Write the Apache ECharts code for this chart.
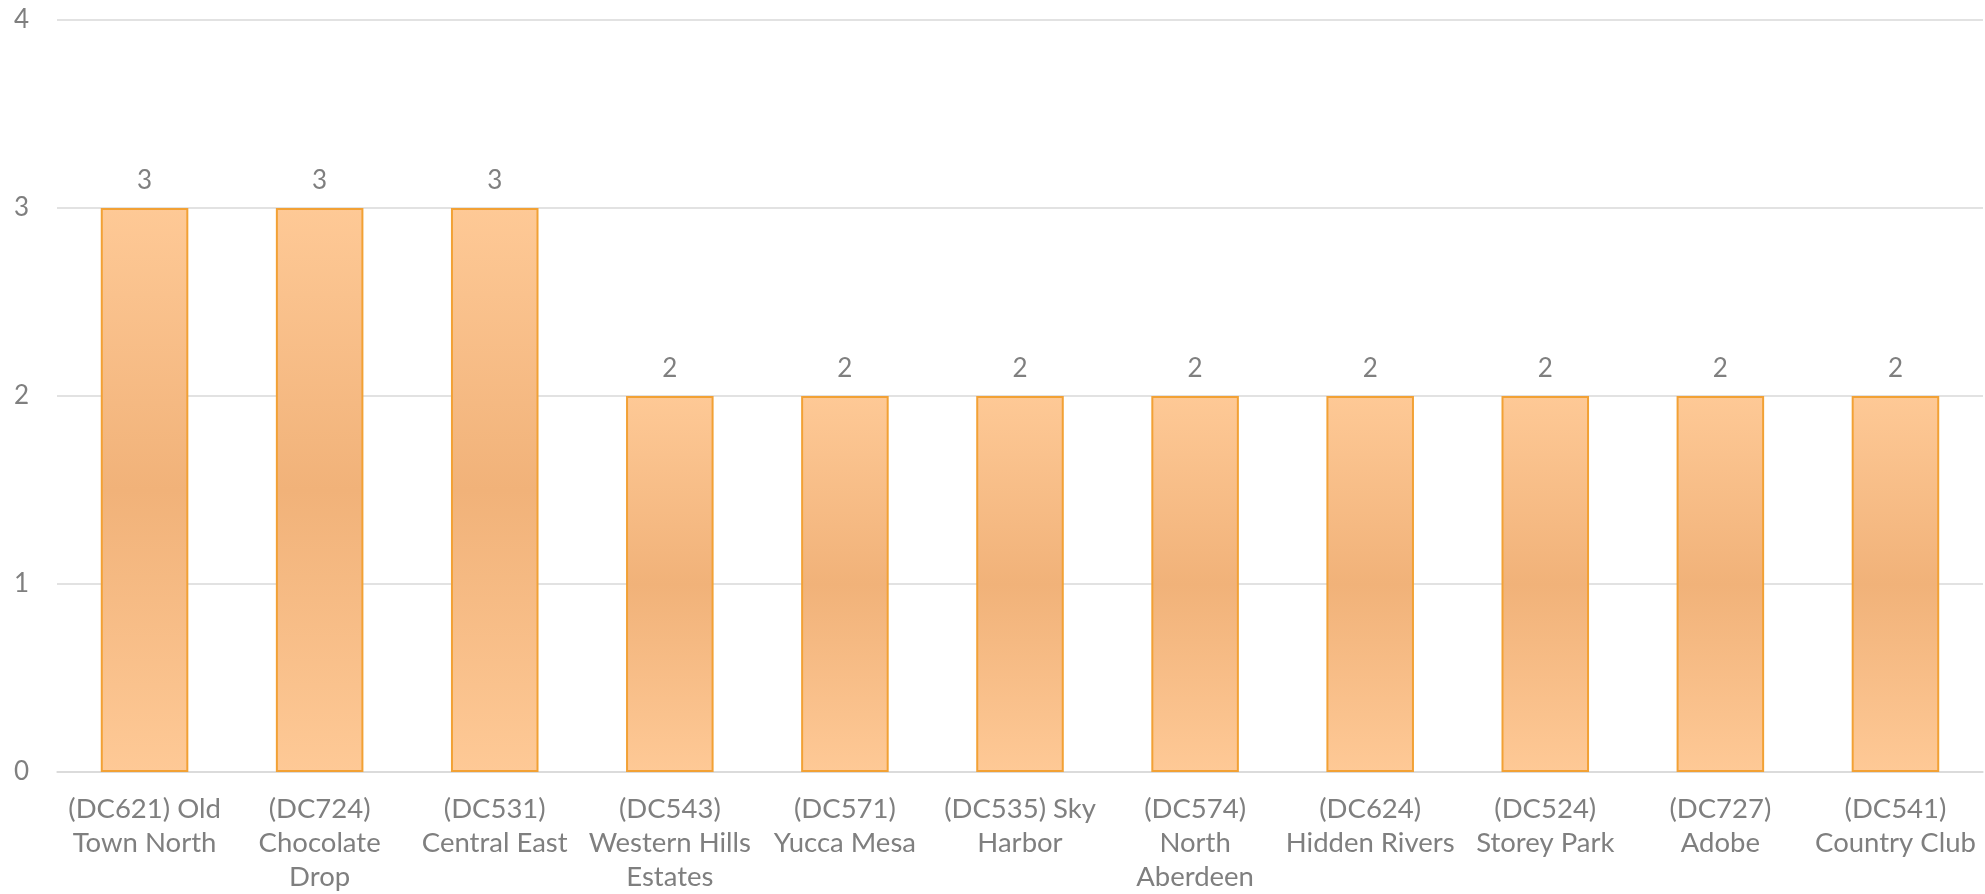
<!DOCTYPE html>
<html>
<head>
<meta charset="utf-8">
<style>
html,body{margin:0;padding:0;background:#fff;}
#chart{width:1985px;height:894px;}
</style>
<script src="https://cdn.jsdelivr.net/npm/echarts@6/dist/echarts.min.js"></script>
</head>
<body>
<div id="chart"></div>
<script>
var categories = [
  "(DC621) Old\nTown North",
  "(DC724)\nChocolate\nDrop",
  "(DC531)\nCentral East",
  "(DC543)\nWestern Hills\nEstates",
  "(DC571)\nYucca Mesa",
  "(DC535) Sky\nHarbor",
  "(DC574)\nNorth\nAberdeen",
  "(DC624)\nHidden Rivers",
  "(DC524)\nStorey Park",
  "(DC727)\nAdobe",
  "(DC541)\nCountry Club"
];
var values = [3, 3, 3, 2, 2, 2, 2, 2, 2, 2, 2];
var yTicks = [0, 1, 2, 3, 4];

var textColor = '#7f7f7f';
var font = 'Lato, "Open Sans", sans-serif';
var chart = echarts.init(document.getElementById('chart'));
chart.setOption({
  animation: false,
  grid: {left: 57, right: 2, top: 20, bottom: 121, containLabel: false},
  xAxis: {
    type: 'category',
    data: categories,
    axisLine: {show: true, lineStyle: {color: '#d9d9d9', width: 1.5}},
    axisTick: {show: false},
    axisLabel: {color: textColor, fontSize: 27.5, fontFamily: font, lineHeight: 34, margin: 20, interval: 0}
  },
  yAxis: {
    type: 'value',
    min: yTicks[0],
    max: yTicks[yTicks.length - 1],
    interval: 1,
    axisLine: {show: false},
    axisTick: {show: false},
    splitLine: {lineStyle: {color: '#d9d9d9', width: 1.5}},
    axisLabel: {color: textColor, fontSize: 26, fontFamily: font, margin: 28}
  },
  series: [{
    type: 'bar',
    data: values,
    barWidth: '50%',
    itemStyle: {
      color: new echarts.graphic.LinearGradient(0, 0, 0, 1, [
        {offset: 0, color: '#fec996'},
        {offset: 0.5, color: '#f1b279'},
        {offset: 1, color: '#fec996'}
      ]),
      borderColor: '#f2a135',
      borderWidth: 2
    },
    label: {show: true, position: 'top', distance: 14, color: textColor, fontSize: 26, fontFamily: font}
  }]
});
</script>
</body>
</html>
